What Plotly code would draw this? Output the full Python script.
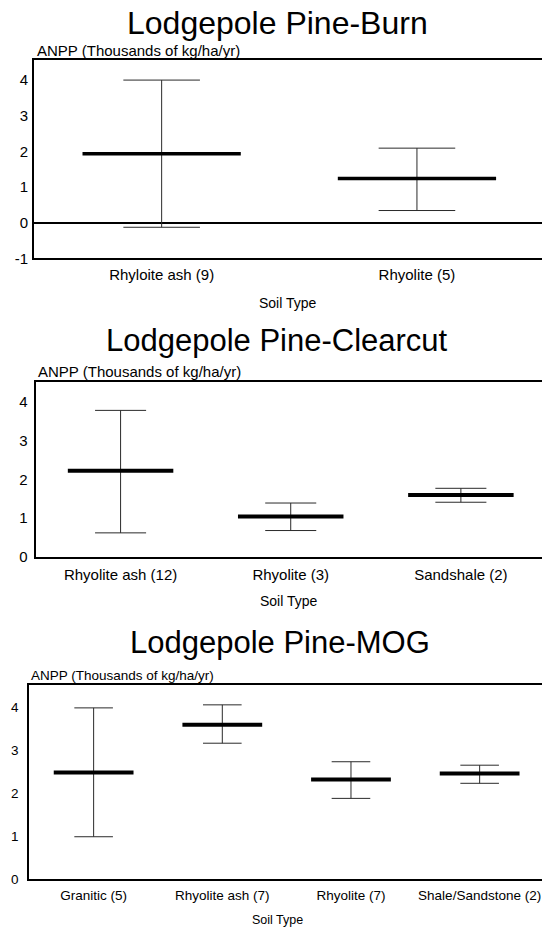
import plotly.graph_objects as go

# ---------------- data ----------------
burn_cats = ["Rhyloite ash (9)", "Rhyolite (5)"]
burn_mean = [1.93, 1.24]
burn_upper = [4.00, 2.09]
burn_lower = [-0.13, 0.34]
burn_ticks = [-1, 0, 1, 2, 3, 4]
burn_ticklabels = ["-1", "0", "1", "2", "3", "4"]

clear_cats = ["Rhyolite ash (12)", "Rhyolite (3)", "Sandshale (2)"]
clear_mean = [2.22, 1.04, 1.60]
clear_upper = [3.78, 1.39, 1.77]
clear_lower = [0.62, 0.68, 1.41]
clear_ticks = [0, 1, 2, 3, 4]
clear_ticklabels = ["0", "1", "2", "3", "4"]

mog_cats = ["Granitic (5)", "Rhyolite ash (7)", "Rhyolite (7)", "Shale/Sandstone (2)"]
mog_mean = [2.48, 3.59, 2.32, 2.46]
mog_upper = [3.98, 4.05, 2.73, 2.65]
mog_lower = [0.99, 3.16, 1.88, 2.23]
mog_ticks = [0, 1, 2, 3, 4]
mog_ticklabels = ["0", "1", "2", "3", "4"]

titles = ["Lodgepole Pine-Burn", "Lodgepole Pine-Clearcut", "Lodgepole Pine-MOG"]
y_label = "ANPP (Thousands of kg/ha/yr)"
x_label = "Soil Type"

# ---------------- layout helpers ----------------
W, H = 542, 936
FONT = "Liberation Sans, Arial, Helvetica, sans-serif"


def fx(x):
    return x / W


def fy(y):
    return 1 - y / H


panels = [
    dict(cats=burn_cats, mean=burn_mean, up=burn_upper, lo=burn_lower,
         ticks=burn_ticks, ticklabels=burn_ticklabels,
         left=34, top=61, bottom=260.5, band=255.3, yr=[-1, 4.55],
         fs=15, tfs=15, lw=3.5, tsize=32, ystand=1, xstand=2,
         title_xy=(277, 23), ylab_xy=(35, 51), xlab_xy=(288, 306)),
    dict(cats=clear_cats, mean=clear_mean, up=clear_upper, lo=clear_lower,
         ticks=clear_ticks, ticklabels=clear_ticklabels,
         left=35.5, top=385, bottom=561.7, band=170.15, yr=[0, 4.52],
         fs=15, tfs=15, lw=4, tsize=31, ystand=3, xstand=3,
         title_xy=(277, 343), ylab_xy=(36, 375), xlab_xy=(289, 606)),
    dict(cats=mog_cats, mean=mog_mean, up=mog_upper, lo=mog_lower,
         ticks=mog_ticks, ticklabels=mog_ticklabels,
         left=29.3, top=690.5, bottom=887, band=128.67, yr=[0, 4.52],
         fs=13.5, tfs=13.5, lw=4, tsize=31, ystand=6, xstand=2,
         title_xy=(280, 648), ylab_xy=(29, 681.5), xlab_xy=(277, 928)),
]

fig = go.Figure()
annotations = []
layout = dict(
    width=W, height=H,
    margin=dict(l=0, r=0, t=0, b=0),
    paper_bgcolor="white", plot_bgcolor="white",
    showlegend=False,
    font=dict(family=FONT, color="black"),
)

for k, p in enumerate(panels):
    n = len(p["cats"])
    xs = list(range(n))
    sfx = "" if k == 0 else str(k + 1)
    xa, ya = "x" + sfx, "y" + sfx

    # error bars (vertical whiskers with caps)
    plus = [u - m for u, m in zip(p["up"], p["mean"])]
    minus = [m - l for m, l in zip(p["mean"], p["lo"])]
    fig.add_trace(go.Scatter(
        x=xs, y=p["mean"], mode="markers", xaxis=xa, yaxis=ya,
        marker=dict(size=1, color="rgba(0,0,0,0)"),
        error_y=dict(type="data", symmetric=False, array=plus, arrayminus=minus,
                     color="#2a2a2a", thickness=1, width=0.15 * p["band"]),
        hoverinfo="skip"))

    # mean bars (thick horizontal lines)
    bx, by = [], []
    for i, m in zip(xs, p["mean"]):
        bx += [i - 0.31, i + 0.31, None]
        by += [m, m, None]
    fig.add_trace(go.Scatter(
        x=bx, y=by, mode="lines", xaxis=xa, yaxis=ya,
        line=dict(color="black", width=p["lw"]), hoverinfo="skip"))

    xr = [-0.5, -0.5 + (W - p["left"]) / p["band"]]
    layout["xaxis" + sfx] = dict(
        domain=[fx(p["left"]), 1.0], range=xr, anchor=ya,
        tickmode="array", tickvals=xs, ticktext=p["cats"],
        showgrid=False, zeroline=False, showline=True, mirror=True,
        linecolor="black", linewidth=2, ticks="",
        tickfont=dict(size=p["tfs"], family=FONT, color="black"),
        ticklabelstandoff=p["xstand"], fixedrange=True)
    layout["yaxis" + sfx] = dict(
        domain=[fy(p["bottom"]), fy(p["top"])], range=p["yr"], anchor=xa,
        tickmode="array", tickvals=p["ticks"], ticktext=p["ticklabels"],
        showgrid=False, zeroline=True, zerolinecolor="black", zerolinewidth=2,
        showline=True, mirror=False, linecolor="black", linewidth=2, ticks="",
        tickfont=dict(size=p["fs"], family=FONT, color="black"),
        ticklabelstandoff=p["ystand"], fixedrange=True)

    tx, ty = p["title_xy"]
    annotations.append(dict(text=titles[k], x=fx(tx), y=fy(ty), xref="paper", yref="paper",
                            xanchor="center", yanchor="middle", showarrow=False,
                            font=dict(size=p["tsize"], family=FONT, color="black")))
    lx, ly = p["ylab_xy"]
    annotations.append(dict(text=y_label, x=fx(lx), y=fy(ly), xref="paper", yref="paper",
                            xanchor="left", yanchor="middle", showarrow=False,
                            font=dict(size=p["fs"], family=FONT, color="black")))
    sx, sy = p["xlab_xy"]
    annotations.append(dict(text=x_label, x=fx(sx), y=fy(sy), xref="paper", yref="paper",
                            xanchor="center", yanchor="middle", showarrow=False,
                            font=dict(size=p["fs"] - 1, family=FONT, color="black")))

layout["annotations"] = annotations
fig.update_layout(**layout)
fig.write_html(
    "out.html",
    config={"displayModeBar": False},
    post_script="document.body.style.margin='0';document.body.style.overflow='hidden';",
)
